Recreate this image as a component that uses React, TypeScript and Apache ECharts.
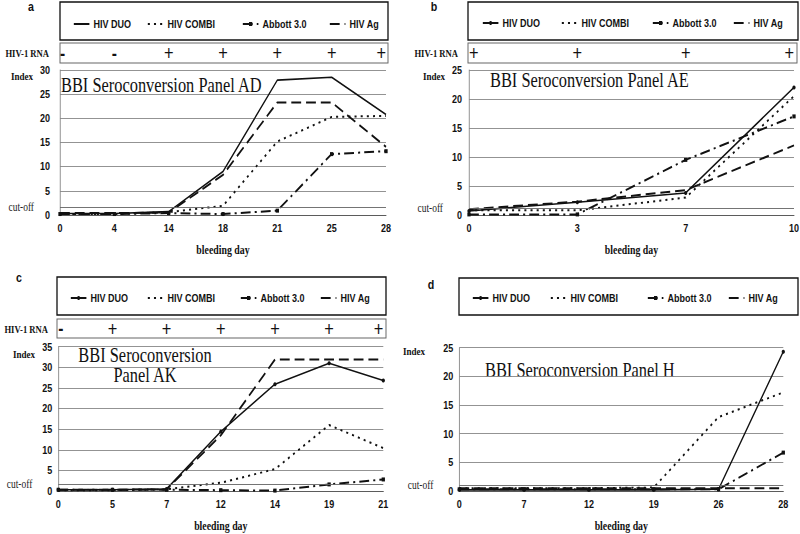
import React, { useEffect, useRef } from 'react';
import * as echarts from 'echarts';

// horizontal compression of the original figure
const K = 0.82;

const SERIES_NAMES = ['HIV DUO', 'HIV COMBI', 'Abbott 3.0', 'HIV Ag'];

// ---- Panel a : BBI Seroconversion Panel AD
const daysA = ['0', '4', '14', '18', '21', '25', '28'];
const rnaA = ['-', '-', '+', '+', '+', '+', '+'];
const duoA = [0.3, 0.3, 0.7, 9.0, 27.9, 28.5, 20.8];
const combiA = [0.2, 0.2, 0.6, 1.9, 15.2, 20.3, 20.5];
const abbottA = [0.2, 0.2, 0.4, 0.2, 0.9, 12.6, 13.2];
const agA = [0.4, 0.4, 0.5, 8.3, 23.3, 23.3, 14.1];
const cutoffA = 1.6;
const maxA = 30;

// ---- Panel b : BBI Seroconversion Panel AE
const daysB = ['0', '3', '7', '10'];
const rnaB = ['+', '+', '+', '+'];
const duoB = [0.7, 2.2, 3.8, 22.0];
const combiB = [0.8, 0.8, 3.0, 20.5];
const abbottB = [0.1, 0.1, 9.5, 17.0];
const agB = [1.0, 2.3, 4.3, 12.0];
const cutoffB = 1.1;
const maxB = 25;

// ---- Panel c : BBI Seroconversion Panel AK
const daysC = ['0', '5', '7', '12', '14', '19', '21'];
const rnaC = ['-', '+', '+', '+', '+', '+', '+'];
const duoC = [0.3, 0.3, 0.5, 14.4, 25.9, 31.0, 26.8];
const combiC = [0.2, 0.2, 0.4, 2.0, 5.3, 16.0, 10.4];
const abbottC = [0.3, 0.3, 0.3, 0.2, 0.1, 1.6, 2.8];
const agC = [0.3, 0.3, 0.4, 13.5, 31.9, 31.9, 31.9];
const cutoffC = 1.6;
const maxC = 35;

// ---- Panel d : BBI Seroconversion Panel H
const daysD = ['0', '7', '12', '19', '26', '28'];
const duoD = [0.2, 0.2, 0.2, 0.2, 0.3, 24.3];
const combiD = [0.5, 0.5, 0.5, 0.6, 12.9, 17.2];
const abbottD = [0.3, 0.3, 0.3, 0.3, 0.3, 6.7];
const agD = [0.5, 0.5, 0.5, 0.5, 0.5, 0.5];
const cutoffD = 1.0;
const maxD = 25;

const SANS = '"Liberation Sans", Arial, sans-serif';
const SERIF = '"Liberation Serif", "Times New Roman", serif';

interface PanelCfg {
  letter: string;
  letterPos: [number, number];
  legendBox: [number, number, number, number];
  legendX: number[];
  legendY: number;
  rnaBox?: [number, number, number, number];
  rnaLabel?: [number, number];
  rna?: string[];
  indexPos: [number, number];
  title: string;
  titlePos: [number, number];
  titleAlign: string;
  grid: [number, number, number, number]; // L, R, T, B (visual px)
  yGap: number;
  days: string[];
  values: number[][];
  ymax: number;
  cutoff: number;
  duoMarker: boolean;
}

const X = (v: number) => v / K;

function buildOption(p: PanelCfg) {
  const [gL, gR, gT, gB] = p.grid;
  const styles: any[] = [
    { type: 'solid', width: 1.6 },
    { type: [2.5, 5], width: 2 },
    { type: [12, 5, 2.5, 5], width: 2 },
    { type: [12, 6], width: 2 },
  ];
  const hasMarker = (i: number) => i === 2 || (i === 0 && p.duoMarker);
  const series = p.values.map((vals, i) => ({
    name: SERIES_NAMES[i],
    type: 'line',
    data: vals,
    xAxisIndex: 0,
    yAxisIndex: 0,
    symbol: i === 2 ? 'rect' : hasMarker(i) ? 'circle' : 'none',
    symbolSize: 4,
    showSymbol: true,
    lineStyle: { color: '#111', ...styles[i] },
    itemStyle: { color: '#111' },
    z: 3,
    markLine:
      i === 0
        ? {
            silent: true,
            symbol: 'none',
            lineStyle: { color: '#666', type: 'solid', width: 1 },
            label: {
              show: true,
              position: 'start',
              formatter: 'cut-off',
              distance: X(26),
              fontFamily: SERIF,
              fontSize: 11.5,
              color: '#222',
            },
            data: [{ yAxis: p.cutoff }],
          }
        : undefined,
  }));

  const legends = SERIES_NAMES.map((n, i) => ({
    data: [n],
    left: X(p.legendX[i]),
    top: p.legendY - 2.5,
    padding: 0,
    itemWidth: 19,
    itemHeight: 5,
    selectedMode: false,
    itemStyle: { opacity: hasMarker(i) ? 1 : 0 },
    lineStyle: { opacity: 1 },
    textStyle: { fontFamily: SANS, fontWeight: 'bold', fontSize: 11, color: '#111' },
  }));

  const graphics: any[] = [];
  const txt = (text: string, x: number, y: number, font: string, align: string, extra: any = {}) => ({
    type: 'text',
    x: X(x),
    y,
    silent: true,
    style: {
      text,
      font,
      fill: '#111',
      align,
      verticalAlign: 'middle',
      textAlign: align,
      textVerticalAlign: 'middle',
      ...extra,
    },
  });
  graphics.push(txt(p.letter, p.letterPos[0], p.letterPos[1], `bold 13px ${SANS}`, 'center'));
  const [lx1, ly1, lx2, ly2] = p.legendBox;
  graphics.push({
    type: 'rect',
    silent: true,
    shape: { x: X(lx1), y: ly1, width: X(lx2 - lx1), height: ly2 - ly1 },
    style: { fill: 'none', stroke: '#111', lineWidth: 1.6 },
  });
  if (p.rnaBox && p.rnaLabel) {
    const [rx1, ry1, rx2, ry2] = p.rnaBox;
    graphics.push({
      type: 'rect',
      silent: true,
      shape: { x: X(rx1), y: ry1, width: X(rx2 - rx1), height: ry2 - ry1 },
      style: { fill: 'none', stroke: '#666', lineWidth: 1.2 },
    });
    graphics.push(txt('HIV-1 RNA', p.rnaLabel[0], p.rnaLabel[1], `bold 10.5px ${SERIF}`, 'right'));
  }
  graphics.push(txt('Index', p.indexPos[0], p.indexPos[1], `bold 11px ${SERIF}`, 'right'));
  graphics.push(
    txt(p.title, p.titlePos[0], p.titlePos[1], `20px ${SERIF}`, p.titleAlign, { lineHeight: 20 })
  );

  const xAxes: any[] = [
    {
      type: 'category',
      data: p.days,
      boundaryGap: false,
      gridIndex: 0,
      axisLine: { lineStyle: { color: '#555', width: 1 } },
      axisTick: { show: false },
      axisLabel: { margin: 8, fontFamily: SANS, fontWeight: 'bold', fontSize: 11, color: '#111', interval: 0 },
      name: 'bleeding day',
      nameLocation: 'middle',
      nameGap: 29,
      nameTextStyle: { fontFamily: SERIF, fontWeight: 'bold', fontSize: 12, color: '#111' },
    },
  ];
  if (p.rna && p.rnaBox) {
    const center = (p.rnaBox[1] + p.rnaBox[3]) / 2;
    const rna = p.rna;
    xAxes.push({
      type: 'category',
      data: p.days,
      boundaryGap: false,
      gridIndex: 0,
      position: 'top',
      axisLine: { show: false },
      axisTick: { show: false },
      splitLine: { show: false },
      axisLabel: {
        interval: 0,
        margin: gT - center - 10,
        alignMinLabel: 'left',
        alignMaxLabel: 'right',
        formatter: (_v: string, idx: number) => (rna[idx] === '+' ? '{p|+}' : '{m|-}'),
        rich: {
          p: { fontFamily: SANS, fontSize: 20, color: '#111', lineHeight: 20 },
          m: { fontFamily: SANS, fontSize: 19, fontWeight: 'bold', color: '#111', lineHeight: 20 },
        },
      },
    });
  }

  return {
    animation: false,
    backgroundColor: '#fff',
    grid: {
      left: X(gL),
      width: X(gR - gL),
      top: gT,
      height: gB - gT,
      containLabel: false,
      outerBoundsMode: 'none',
    },
    legend: legends,
    xAxis: xAxes,
    yAxis: {
      type: 'value',
      min: 0,
      max: p.ymax,
      interval: 5,
      axisLine: { show: true, lineStyle: { color: '#888' } },
      axisTick: { show: false },
      splitLine: { lineStyle: { color: '#888', width: 1 } },
      axisLabel: { margin: X(p.yGap), fontFamily: SANS, fontWeight: 'bold', fontSize: 11, color: '#111' },
    },
    graphic: { elements: graphics },
    series,
  };
}

const panelA: PanelCfg = {
  letter: 'a',
  letterPos: [31, 7],
  legendBox: [60, 2, 388, 40],
  legendX: [73, 147, 242, 329],
  legendY: 21,
  rnaBox: [60, 43, 388, 63],
  rnaLabel: [49, 53],
  rna: rnaA,
  indexPos: [33, 76],
  title: 'BBI Seroconversion Panel AD',
  titlePos: [61, 85],
  titleAlign: 'left',
  grid: [60, 386, 70, 215],
  yGap: 10,
  days: daysA,
  values: [duoA, combiA, abbottA, agA],
  ymax: maxA,
  cutoff: cutoffA,
  duoMarker: false,
};

const panelB: PanelCfg = {
  letter: 'b',
  letterPos: [34, 7],
  legendBox: [68, 2, 398, 40],
  legendX: [82, 161, 252, 333],
  legendY: 20,
  rnaBox: [68, 43, 397, 63],
  rnaLabel: [58, 53],
  rna: rnaB,
  indexPos: [45, 76],
  title: 'BBI Seroconversion Panel AE',
  titlePos: [90, 80],
  titleAlign: 'left',
  grid: [69, 394, 70, 215],
  yGap: 7,
  days: daysB,
  values: [duoB, combiB, abbottB, agB],
  ymax: maxB,
  cutoff: cutoffB,
  duoMarker: true,
};

const panelC: PanelCfg = {
  letter: 'c',
  letterPos: [19, 11],
  legendBox: [57, 10, 386, 48],
  legendX: [70, 147, 240, 320],
  legendY: 28,
  rnaBox: [57, 52, 386, 71],
  rnaLabel: [48, 62],
  rna: rnaC,
  indexPos: [35, 87],
  title: 'BBI Seroconversion\nPanel AK',
  titlePos: [145, 98],
  titleAlign: 'center',
  grid: [58.3, 383.3, 79.7, 224],
  yGap: 6,
  days: daysC,
  values: [duoC, combiC, abbottC, agC],
  ymax: maxC,
  cutoff: cutoffC,
  duoMarker: true,
};

const panelD: PanelCfg = {
  letter: 'd',
  letterPos: [31, 18],
  legendBox: [59, 11, 398, 48],
  legendX: [72, 150, 247, 328],
  legendY: 28,
  indexPos: [25, 84],
  title: 'BBI Seroconversion Panel H',
  titlePos: [85, 103],
  titleAlign: 'left',
  grid: [59.3, 383.3, 80.7, 224],
  yGap: 6,
  days: daysD,
  values: [duoD, combiD, abbottD, agD],
  ymax: maxD,
  cutoff: cutoffD,
  duoMarker: true,
};

function Panel({ cfg, left, top }: { cfg: PanelCfg; left: number; top: number }) {
  const ref = useRef<HTMLDivElement>(null);
  useEffect(() => {
    if (!ref.current) return;
    const chart = echarts.init(ref.current, null, { renderer: 'svg' });
    chart.setOption(buildOption(cfg) as any);
    return () => chart.dispose();
  }, [cfg]);
  return (
    <div style={{ position: 'absolute', left, top, width: 400, height: 267, overflow: 'hidden', background: '#fff' }}>
      <div
        ref={ref}
        style={{ width: 400 / K, height: 267, transform: `scaleX(${K})`, transformOrigin: '0 0' }}
      />
    </div>
  );
}

export default function App() {
  return (
    <div style={{ position: 'absolute', left: 0, top: 0, width: 800, height: 534, overflow: 'hidden', background: '#fff' }}>
      <Panel cfg={panelA} left={0} top={0} />
      <Panel cfg={panelB} left={400} top={0} />
      <Panel cfg={panelC} left={0} top={267} />
      <Panel cfg={panelD} left={400} top={267} />
    </div>
  );
}
